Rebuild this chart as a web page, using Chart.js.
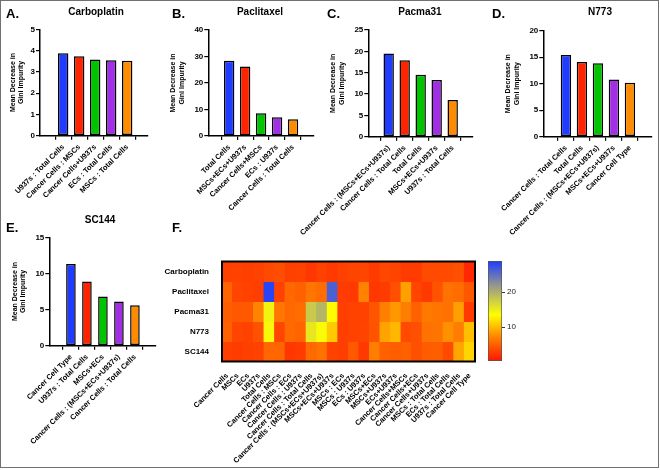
<!DOCTYPE html>
<html>
<head>
<meta charset="utf-8">
<script src="https://cdn.jsdelivr.net/npm/chart.js@4.4.0/dist/chart.umd.min.js"></script>
<style>
  html, body { margin: 0; padding: 0; background: #fff; }
  #page { position: relative; width: 660px; height: 470px; overflow: hidden; font-family: "Liberation Sans", Arial, sans-serif; }
  #page canvas { position: absolute; left: 0; top: 0; }
  .frame { position: absolute; left: 0; top: 0; width: 659px; height: 468px; box-sizing: border-box; border: 1.5px solid #707070; }
  .lbl { position: absolute; font-weight: bold; color: #000; white-space: nowrap; line-height: 1; }
  .letter { font-size: 13px; }
  .ttl { font-size: 10px; transform: translateX(-50%); }
</style>
</head>
<body>
<div id="page">
  <canvas id="cA" width="660" height="470"></canvas>
  <canvas id="cB" width="660" height="470"></canvas>
  <canvas id="cC" width="660" height="470"></canvas>
  <canvas id="cD" width="660" height="470"></canvas>
  <canvas id="cE" width="660" height="470"></canvas>
  <canvas id="cHeat" width="660" height="470"></canvas>
  <canvas id="cScale" width="660" height="470"></canvas>

  <div class="lbl letter" style="left:6px;top:7px">A.</div>
  <div class="lbl letter" style="left:172px;top:7px">B.</div>
  <div class="lbl letter" style="left:327px;top:7px">C.</div>
  <div class="lbl letter" style="left:492px;top:7px">D.</div>
  <div class="lbl letter" style="left:6px;top:221px">E.</div>
  <div class="lbl letter" style="left:172px;top:221px">F.</div>

  <div class="lbl ttl" style="left:96px;top:7px">Carboplatin</div>
  <div class="lbl ttl" style="left:260px;top:7px">Paclitaxel</div>
  <div class="lbl ttl" style="left:420px;top:7px">Pacma31</div>
  <div class="lbl ttl" style="left:600px;top:7px">N773</div>
  <div class="lbl ttl" style="left:100px;top:215px">SC144</div>

  <div class="frame"></div>
</div>
<script>
// bar panels
const carboLabels = ['U937s : Total Cells', 'Cancer Cells : MSCs', 'Cancer Cells+U937s', 'ECs : Total Cells', 'MSCs : Total Cells'];
const carboValues = [3.88, 3.73, 3.58, 3.55, 3.52];

const pacliLabels = ['Total Cells', 'MSCs+ECs+U937s', 'Cancer Cells+MSCs', 'ECs : U937s', 'Cancer Cells : Total Cells'];
const pacliValues = [28.4, 26.2, 8.6, 7.1, 6.3];

const pacmaLabels = ['Cancer Cells : (MSCs+ECs+U937s)', 'Cancer Cells : Total Cells', 'Total Cells', 'MSCs+ECs+U937s', 'U937s : Total Cells'];
const pacmaValues = [19.5, 17.9, 14.5, 13.3, 8.6];

const n773Labels = ['Cancer Cells : Total Cells', 'Total Cells', 'Cancer Cells : (MSCs+ECs+U937s)', 'MSCs+ECs+U937s', 'Cancer Cell Type'];
const n773Values = [15.4, 14.1, 13.85, 10.8, 10.2];

const sc144Labels = ['Cancer Cell Type', 'U937s : Total Cells', 'MSCs+ECs', 'Cancer Cells : (MSCs+ECs+U937s)', 'Cancer Cells : Total Cells'];
const sc144Values = [11.3, 8.9, 6.8, 6.1, 5.6];

// heatmap
const heatColumns = ['Cancer Cells', 'MSCs', 'ECs', 'U937s', 'Total Cells',
  'Cancer Cells : MSCs', 'Cancer Cells : ECs', 'Cancer Cells : U937s', 'Cancer Cells : Total Cells',
  'Cancer Cells : (MSCs+ECs+U937s)', 'MSCs+ECs+U937s', 'MSCs : ECs', 'MSCs : U937s', 'ECs : U937s',
  'MSCs+ECs', 'MSCs+U937s', 'ECs+U937s', 'Cancer Cells+MSCs', 'Cancer Cells+ECs', 'Cancer Cells+U937s',
  'MSCs : Total Cells', 'ECs : Total Cells', 'U937s : Total Cells', 'Cancer Cell Type'];
const heatDrugs = ['Carboplatin', 'Paclitaxel', 'Pacma31', 'N773', 'SC144'];
const heatCarboplatin = [2.9, 3.0, 2.8, 3.0, 3.4, 3.73, 2.9, 3.0, 2.3, 3.0, 2.4, 2.9, 3.1, 3.2, 2.5, 3.3, 3.1, 2.6, 2.5, 3.58, 3.52, 3.55, 3.88, 1.3];
const heatPaclitaxel = [5.2, 3.2, 3.0, 2.8, 28.4, 3.0, 5.4, 4.9, 6.3, 5.8, 26.2, 2.6, 2.4, 7.1, 2.3, 2.6, 3.9, 8.6, 3.2, 2.4, 4.1, 6.0, 5.7, 4.3];
const heatPacma31 = [4.8, 4.4, 4.5, 7.2, 14.5, 6.4, 5.4, 5.8, 17.9, 19.5, 13.3, 2.8, 3.0, 3.0, 4.2, 7.0, 8.2, 6.8, 5.0, 6.5, 6.3, 6.0, 8.6, 2.4];
const heatN773 = [5.0, 3.2, 3.0, 4.0, 14.1, 3.2, 5.5, 5.2, 15.4, 13.85, 10.8, 2.8, 3.0, 3.1, 4.1, 8.8, 9.8, 3.5, 3.8, 6.0, 6.2, 7.8, 6.8, 10.2];
const heatSC144 = [2.8, 2.6, 2.8, 3.0, 5.4, 5.3, 2.2, 2.5, 5.6, 6.1, 3.0, 2.8, 4.4, 2.4, 6.8, 5.0, 4.8, 5.0, 3.8, 4.6, 4.8, 3.5, 8.9, 11.3];
const heatRows = [heatCarboplatin, heatPaclitaxel, heatPacma31, heatN773, heatSC144];

// colour scale
const colorMin = 0.3;
const colorMax = 28.9;
const colorTicks = [10, 20];

const barColors = ['#1f3cff', '#ff2400', '#00c400', '#a22ee6', '#ff8c00'];
const colorStops = [[0, '#ff1400'], [7, '#ff8000'], [13.5, '#ffff00'], [21.5, '#9c9c88'], [29, '#1e3cff']];

Chart.defaults.font.family = '"Liberation Sans", Arial, sans-serif';
Chart.defaults.color = '#000';
Chart.defaults.animation = false;
Chart.defaults.plugins.legend.display = false;
Chart.defaults.plugins.tooltip.enabled = false;

function hexRgb(h) {
  return [parseInt(h.slice(1, 3), 16), parseInt(h.slice(3, 5), 16), parseInt(h.slice(5, 7), 16)];
}

function colorFor(v) {
  if (v <= colorStops[0][0]) return colorStops[0][1];
  for (let i = 1; i < colorStops.length; i++) {
    if (v <= colorStops[i][0]) {
      const [v0, c0] = colorStops[i - 1];
      const [v1, c1] = colorStops[i];
      const t = (v - v0) / (v1 - v0);
      const a = hexRgb(c0), b = hexRgb(c1);
      const m = a.map((x, k) => Math.round(x + (b[k] - x) * t));
      return 'rgb(' + m.join(',') + ')';
    }
  }
  return colorStops[colorStops.length - 1][1];
}

// fix a scale's size so the plot area stays where it is in the figure
function pinScale(width, height) {
  return function (scale) {
    if (width !== null) scale.width = width;
    if (height !== null) scale.height = height;
    scale.paddingLeft = 0;
    scale.paddingRight = 0;
    scale.paddingTop = 0;
    scale.paddingBottom = 0;
  };
}

// x is a linear index axis so the gap before the first bar (Prism style) can be set
function barPanel(id, labels, values, box, yMax, yStep) {
  return new Chart(document.getElementById(id), {
    type: 'bar',
    data: {
      datasets: [{
        data: values.map((v, i) => ({ x: i, y: v })),
        backgroundColor: barColors,
        borderColor: '#000',
        borderWidth: 1.5,
        borderSkipped: false,
        barPercentage: box.bar,
        categoryPercentage: 1
      }]
    },
    options: {
      responsive: false,
      devicePixelRatio: 1,
      layout: {
        autoPadding: false,
        padding: { left: box.titleX, right: 660 - box.right, top: box.top, bottom: 0 }
      },
      scales: {
        x: {
          type: 'linear',
          min: -box.lead,
          max: labels.length - 1 + box.trail,
          afterBuildTicks: (scale) => { scale.ticks = labels.map((l, i) => ({ value: i })); },
          afterFit: pinScale(null, 470 - box.bottom),
          grid: { display: true, drawOnChartArea: false, tickLength: 4, color: '#000', lineWidth: 1.2 },
          border: { display: true, color: '#000', width: 1.5 },
          ticks: {
            autoSkip: false, minRotation: 45, maxRotation: 45, padding: 3,
            font: { size: 7.5, weight: 'bold' },
            callback: (v, i) => labels[i]
          }
        },
        y: {
          min: 0,
          max: yMax,
          afterFit: pinScale(box.left - box.titleX, null),
          grid: { display: true, drawOnChartArea: false, tickLength: 4, color: '#000', lineWidth: 1.2 },
          border: { display: true, color: '#000', width: 1.5 },
          ticks: { stepSize: yStep, padding: 1, font: { size: 8, weight: 'bold' } },
          title: {
            display: true,
            text: ['Mean Decrease in', 'Gini Impurity'],
            padding: 0,
            font: { size: 7, weight: 'bold', lineHeight: 1.2 }
          }
        }
      }
    }
  });
}

barPanel('cA', carboLabels, carboValues, { titleX: 8.8, left: 40, right: 148, top: 29.3, bottom: 135.7, lead: 0.775, trail: 0.625, bar: 0.65 }, 5, 1);
barPanel('cB', pacliLabels, pacliValues, { titleX: 169.1, left: 208.3, right: 314, top: 30, bottom: 136, lead: 0.645, trail: 0.65, bar: 0.65 }, 40, 10);
barPanel('cC', pacmaLabels, pacmaValues, { titleX: 329, left: 368.3, right: 473, top: 30, bottom: 136.7, lead: 0.62, trail: 0.615, bar: 0.65 }, 25, 5);
barPanel('cD', n773Labels, n773Values, { titleX: 504.1, left: 543.3, right: 652, top: 30.7, bottom: 136.7, lead: 0.735, trail: 0.7, bar: 0.65 }, 20, 5);
barPanel('cE', sc144Labels, sc144Values, { titleX: 10.8, left: 49.3, right: 156, top: 237.3, bottom: 345.7, lead: 0.685, trail: 0.65, bar: 0.6 }, 15, 5);

// heatmap: one row of floating bars per drug
const heatFrame = {
  id: 'heatFrame',
  afterDatasetsDraw(chart) {
    const { ctx, chartArea: a } = chart;
    ctx.save();
    ctx.lineWidth = 2;
    ctx.strokeStyle = '#000';
    ctx.strokeRect(a.left, a.top, a.right - a.left, a.bottom - a.top);
    ctx.restore();
  }
};

new Chart(document.getElementById('cHeat'), {
  type: 'bar',
  data: {
    labels: heatColumns,
    datasets: heatRows.map((row, i) => ({
      data: row.map(() => [i, i + 1]),
      backgroundColor: row.map(colorFor),
      borderWidth: 0,
      inflateAmount: 0.6,
      grouped: false,
      barPercentage: 1,
      categoryPercentage: 1
    }))
  },
  options: {
    responsive: false,
    devicePixelRatio: 1,
    layout: { autoPadding: false, padding: { left: 140, right: 660 - 475, top: 261.5, bottom: 0 } },
    scales: {
      x: {
        afterFit: pinScale(null, 470 - 361.5),
        grid: { display: false },
        border: { display: false },
        ticks: { autoSkip: false, minRotation: 45, maxRotation: 45, padding: 2, font: { size: 7.5, weight: 'bold' } }
      },
      y: {
        min: 0,
        max: heatDrugs.length,
        reverse: true,
        afterFit: pinScale(222 - 140, null),
        afterBuildTicks: (scale) => { scale.ticks = heatDrugs.map((d, i) => ({ value: i + 0.5 })); },
        grid: { display: false },
        border: { display: false },
        ticks: { padding: 5, font: { size: 8, weight: 'bold' }, callback: (v, i) => heatDrugs[i] }
      }
    }
  },
  plugins: [heatFrame]
});

// colour bar
function gradientFill(context) {
  const chart = context.chart;
  if (!chart.chartArea) return '#ff8000';
  const y = chart.scales.y;
  const g = chart.ctx.createLinearGradient(0, y.getPixelForValue(colorMin), 0, y.getPixelForValue(colorMax));
  colorStops.forEach(([v, c]) => {
    const t = Math.min(1, Math.max(0, (v - colorMin) / (colorMax - colorMin)));
    g.addColorStop(t, c);
  });
  return g;
}

new Chart(document.getElementById('cScale'), {
  type: 'bar',
  data: {
    labels: [''],
    datasets: [{
      data: [[colorMin, colorMax]],
      backgroundColor: gradientFill,
      borderColor: '#555',
      borderWidth: 1,
      borderSkipped: false,
      barPercentage: 1,
      categoryPercentage: 1
    }]
  },
  options: {
    responsive: false,
    devicePixelRatio: 1,
    layout: { autoPadding: false, padding: { left: 488, right: 660 - 502 - 30, top: 261, bottom: 470 - 361 } },
    scales: {
      x: { display: false },
      y: {
        position: 'right',
        min: colorMin,
        max: colorMax,
        afterFit: pinScale(30, null),
        afterBuildTicks: (scale) => { scale.ticks = colorTicks.map(v => ({ value: v })); },
        grid: { display: true, drawOnChartArea: false, tickLength: 3, color: '#333', lineWidth: 1 },
        border: { display: false },
        ticks: { padding: 2, color: '#222', font: { size: 8 } }
      }
    }
  }
});
</script>
</body>
</html>
